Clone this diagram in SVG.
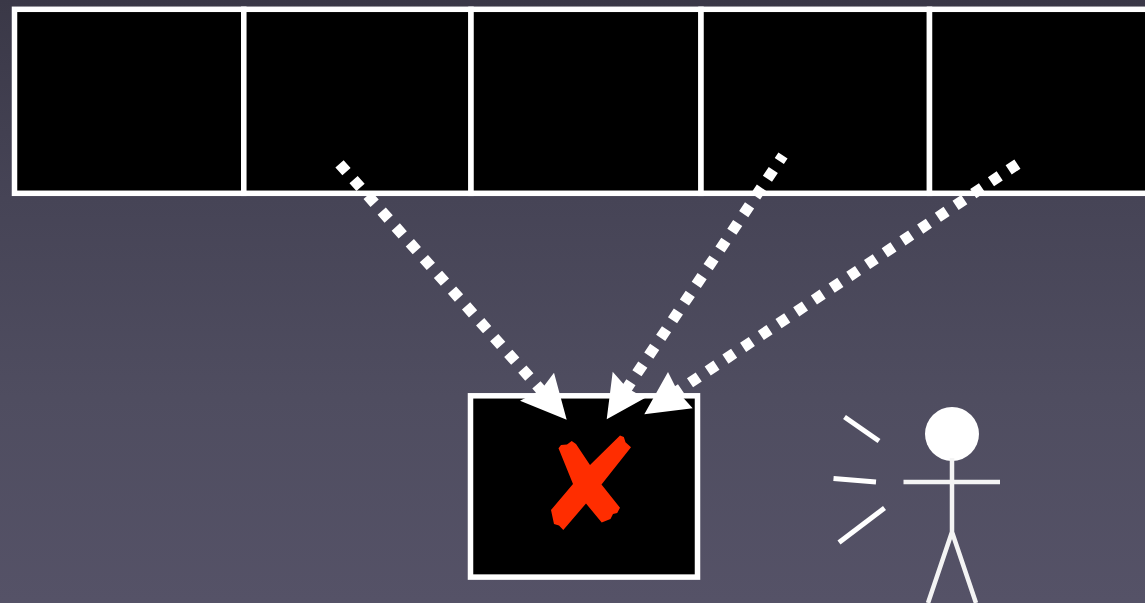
<svg xmlns="http://www.w3.org/2000/svg" width="1145" height="603" viewBox="0 0 1145 603">
<defs>
<linearGradient id="bg" x1="0" y1="0" x2="0" y2="1"><stop offset="0" stop-color="#3a3847"/><stop offset="0.33" stop-color="#464456"/><stop offset="0.66" stop-color="#4f4d60"/><stop offset="1" stop-color="#555267"/></linearGradient>
<filter id="soft" x="-10%" y="-10%" width="120%" height="120%"><feGaussianBlur stdDeviation="0.7"/></filter>
</defs>
<style>
.cell{fill:#000;stroke:#fff;stroke-width:5.5}
.dash{fill:none;stroke:#fff;stroke-width:11}
.head{fill:#fff}
.fig{fill:none;stroke:#f4f4f4;stroke-width:4.5;stroke-linecap:butt}
.ray{fill:none;stroke:#fff;stroke-width:5}
</style>
<rect width="1145" height="603" fill="url(#bg)"/>
<g id="array">
<rect id="cell-1" class="cell" x="14.500" y="9.300" width="229.300" height="184"/>
<rect id="cell-2" class="cell" x="243.800" y="9.300" width="227.200" height="184"/>
<rect id="cell-3" class="cell" x="471" y="9.300" width="230" height="184"/>
<rect id="cell-4" class="cell" x="701" y="9.300" width="228.500" height="184"/>
<rect id="cell-5" class="cell" x="929.500" y="9.300" width="225" height="184"/>
</g>
<g id="target">
<rect class="cell" x="470.500" y="395.800" width="227" height="181.300"/>
<path id="cross" fill="#ff2d00" d="M558.500 448.300L561 445L567 444.500L571.700 441L576 444L590 465L620 435.500L623.800 437L625.500 442.200L631 447.300L601.500 484.500L620 507.700L617.200 513L613 514L610.500 519L601.700 522.500L586 503.500L563.300 530L559 525.500L554 524L551 510L573 484Z"/>
</g>
<g id="connectors">
<line class="dash" stroke-dasharray="10.500 10.650" x1="339.500" y1="163.800" x2="543.500" y2="392.900"/>
<line class="dash" stroke-dasharray="10.500 10.800" x1="625.100" y1="391" x2="783" y2="155.500"/>
<line class="dash" stroke-dasharray="10.500 10.790" x1="1017.400" y1="164.100" x2="672.300" y2="394.600"/>
<polygon class="head" points="566.700,419.700 554,372.700 541,390 520,400.700"/>
<polygon class="head" points="606.700,419.300 612.700,371.700 627,388 645,398"/>
<polygon class="head" points="644.300,414.300 668,372 678,392 692.700,408.300"/>
</g>
<g id="person" filter="url(#soft)">
<circle cx="952" cy="434" r="27" fill="#fff"/>
<path class="fig" d="M952 458V532M903.500 482H1000M952 532L928 603M952 532L976 603"/>
</g>
<g id="rays">
<line class="ray" x1="844.500" y1="417" x2="879" y2="441"/>
<line class="ray" x1="833.500" y1="478.500" x2="876" y2="482"/>
<line class="ray" x1="839" y1="542.500" x2="884.500" y2="508"/>
</g>
</svg>
